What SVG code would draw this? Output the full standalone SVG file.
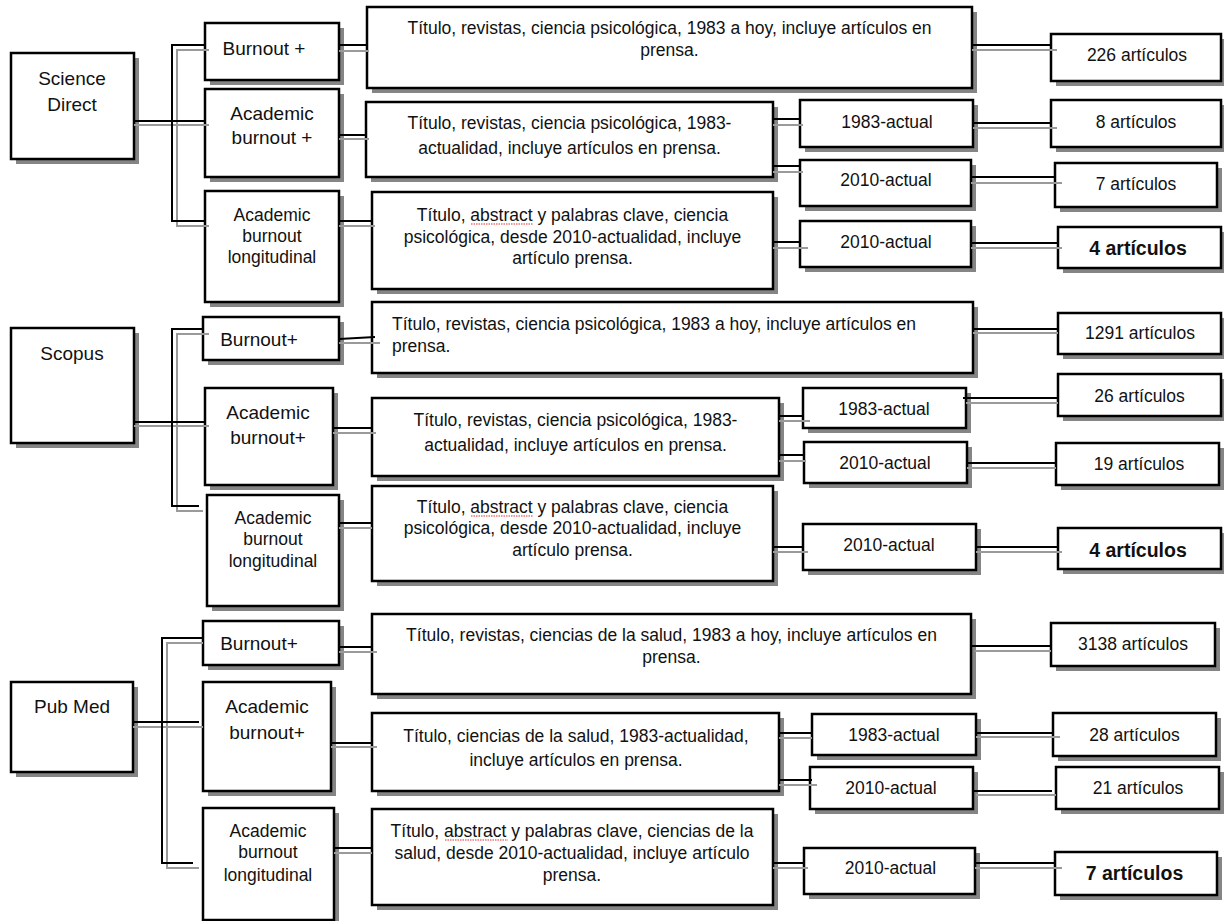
<svg xmlns="http://www.w3.org/2000/svg" width="1224" height="921" viewBox="0 0 1224 921">
<style>
.sh{fill:#858585}
.box{fill:#fff;stroke:#000;stroke-width:2.5}
.c{stroke:#000;stroke-width:2;fill:none}
.g{stroke:#9a9a9a;stroke-width:2;fill:none}
.sq{stroke:#e03030;stroke-width:1.2;fill:none;stroke-dasharray:1.5 1}
text{font-family:"Liberation Sans",Arial,sans-serif;fill:#111;text-anchor:middle}
.s{font-size:17.5px}
.l{font-size:19px}
.bd{font-size:19.5px;font-weight:bold}
.la{text-anchor:start}
</style>
<rect width="1224" height="921" fill="#fff"/>

<!-- Science Direct -->
<g id="sd"><rect class="sh" x="16" y="58" width="123" height="106"/><rect class="box" x="11" y="53" width="123" height="106"/><text class="l" x="72" y="85">Science</text><text class="l" x="72" y="111">Direct</text></g>
<g id="sd_b"><rect class="sh" x="210" y="28" width="134" height="57"/><rect class="box" x="205" y="23" width="134" height="57"/><text class="l" x="264" y="55">Burnout  +</text></g>
<g id="sd_ab"><rect class="sh" x="210" y="94" width="134" height="88"/><rect class="box" x="205" y="89" width="134" height="88"/><text class="l" x="272" y="120">Academic</text><text class="l" x="272" y="144">burnout  +</text></g>
<g id="sd_abl"><rect class="sh" x="210" y="196" width="134" height="111"/><rect class="box" x="205" y="191" width="134" height="111"/><text class="s" x="272" y="221">Academic</text><text class="s" x="272" y="242">burnout</text><text class="s" x="272" y="263">longitudinal</text></g>
<g id="sd_q1"><rect class="sh" x="372" y="12" width="605" height="81"/><rect class="box" x="367" y="7" width="605" height="81"/><text class="s" x="669.5" y="34">Título, revistas, ciencia psicológica, 1983 a hoy, incluye artículos en</text><text class="s" x="669.5" y="56">prensa.</text></g>
<g id="sd_q2"><rect class="sh" x="371" y="107" width="407" height="75"/><rect class="box" x="366" y="102" width="407" height="75"/><text class="s" x="569.5" y="129">Título, revistas, ciencia psicológica, 1983-</text><text class="s" x="569.5" y="154">actualidad, incluye artículos en prensa.</text></g>
<g id="sd_q3"><rect class="sh" x="377" y="197" width="401" height="97"/><rect class="box" x="372" y="192" width="401" height="97"/><text class="s" x="572.5" y="221">Título, abstract y palabras clave, ciencia</text><text class="s" x="572.5" y="243">psicológica, desde 2010-actualidad, incluye</text><text class="s" x="572.5" y="264">artículo prensa.</text><path class="sq" d="M471,224 H533"/></g>
<g id="sd_y1"><rect class="sh" x="805" y="105" width="173" height="47"/><rect class="box" x="800" y="100" width="173" height="47"/><text class="s" x="887" y="128">1983-actual</text></g>
<g id="sd_y2"><rect class="sh" x="805" y="165" width="171" height="46"/><rect class="box" x="800" y="160" width="171" height="46"/><text class="s" x="886" y="186">2010-actual</text></g>
<g id="sd_y3"><rect class="sh" x="805" y="226" width="171" height="46"/><rect class="box" x="800" y="221" width="171" height="46"/><text class="s" x="886" y="248">2010-actual</text></g>
<g id="sd_r1"><rect class="sh" x="1056" y="39" width="170" height="47"/><rect class="box" x="1051" y="34" width="170" height="47"/><text class="s" x="1137" y="61">226 artículos</text></g>
<g id="sd_r2"><rect class="sh" x="1056" y="105" width="170" height="47"/><rect class="box" x="1051" y="100" width="170" height="47"/><text class="s" x="1136" y="128">8 artículos</text></g>
<g id="sd_r3"><rect class="sh" x="1060" y="168" width="162" height="44"/><rect class="box" x="1055" y="163" width="162" height="44"/><text class="s" x="1136" y="190">7 artículos</text></g>
<g id="sd_r4"><rect class="sh" x="1063" y="232" width="163" height="41"/><rect class="box" x="1058" y="227" width="163" height="41"/><text class="bd" x="1138" y="255">4 artículos</text></g>

<!-- Scopus -->
<g id="sc"><rect class="sh" x="16" y="333" width="123" height="115"/><rect class="box" x="11" y="328" width="123" height="115"/><text class="l" x="72" y="360">Scopus</text></g>
<g id="sc_b"><rect class="sh" x="208" y="322" width="136" height="43"/><rect class="box" x="203" y="317" width="136" height="43"/><text class="l" x="259" y="346">Burnout+</text></g>
<g id="sc_ab"><rect class="sh" x="210" y="393" width="128" height="97"/><rect class="box" x="205" y="388" width="128" height="97"/><text class="l" x="268" y="419">Academic</text><text class="l" x="268" y="444">burnout+</text></g>
<g id="sc_abl"><rect class="sh" x="212" y="500" width="132" height="111"/><rect class="box" x="207" y="495" width="132" height="111"/><text class="s" x="273" y="524">Academic</text><text class="s" x="273" y="545">burnout</text><text class="s" x="273" y="567">longitudinal</text></g>
<g id="sc_q1"><rect class="sh" x="377" y="307" width="601" height="71"/><rect class="box" x="372" y="302" width="601" height="71"/><text class="s la" x="392" y="330">Título, revistas, ciencia psicológica, 1983 a hoy, incluye artículos en</text><text class="s la" x="392" y="352">prensa.</text></g>
<g id="sc_q2"><rect class="sh" x="377" y="403" width="407" height="78"/><rect class="box" x="372" y="398" width="407" height="78"/><text class="s" x="575.5" y="426">Título, revistas, ciencia psicológica, 1983-</text><text class="s" x="575.5" y="451">actualidad, incluye artículos en prensa.</text></g>
<g id="sc_q3"><rect class="sh" x="377" y="491" width="401" height="95"/><rect class="box" x="372" y="486" width="401" height="95"/><text class="s" x="572.5" y="513">Título, abstract y palabras clave, ciencia</text><text class="s" x="572.5" y="534">psicológica, desde 2010-actualidad, incluye</text><text class="s" x="572.5" y="556">artículo prensa.</text><path class="sq" d="M471,516 H533"/></g>
<g id="sc_y1"><rect class="sh" x="808" y="393" width="163" height="40"/><rect class="box" x="803" y="388" width="163" height="40"/><text class="s" x="884" y="415">1983-actual</text></g>
<g id="sc_y2"><rect class="sh" x="809" y="447" width="163" height="41"/><rect class="box" x="804" y="442" width="163" height="41"/><text class="s" x="885" y="469">2010-actual</text></g>
<g id="sc_y3"><rect class="sh" x="808" y="529" width="173" height="46"/><rect class="box" x="803" y="524" width="173" height="46"/><text class="s" x="889" y="551">2010-actual</text></g>
<g id="sc_r1"><rect class="sh" x="1063" y="318" width="163" height="41"/><rect class="box" x="1058" y="313" width="163" height="41"/><text class="s" x="1140" y="339">1291 artículos</text></g>
<g id="sc_r2"><rect class="sh" x="1063" y="379" width="163" height="42"/><rect class="box" x="1058" y="374" width="163" height="42"/><text class="s" x="1139.5" y="402">26 artículos</text></g>
<g id="sc_r3"><rect class="sh" x="1061" y="448" width="163" height="42"/><rect class="box" x="1056" y="443" width="163" height="42"/><text class="s" x="1139" y="470">19 artículos</text></g>
<g id="sc_r4"><rect class="sh" x="1063" y="533" width="163" height="41"/><rect class="box" x="1058" y="528" width="163" height="41"/><text class="bd" x="1138" y="557">4 artículos</text></g>

<!-- Pub Med -->
<g id="pm"><rect class="sh" x="16" y="687" width="122" height="90"/><rect class="box" x="11" y="682" width="122" height="90"/><text class="l" x="72" y="713">Pub Med</text></g>
<g id="pm_b"><rect class="sh" x="208" y="626" width="136" height="44"/><rect class="box" x="203" y="621" width="136" height="44"/><text class="l" x="259" y="650">Burnout+</text></g>
<g id="pm_ab"><rect class="sh" x="208" y="687" width="128" height="109"/><rect class="box" x="203" y="682" width="128" height="109"/><text class="l" x="267" y="713">Academic</text><text class="l" x="267" y="739">burnout+</text></g>
<g id="pm_abl"><rect class="sh" x="208" y="813" width="131" height="112"/><rect class="box" x="203" y="808" width="131" height="112"/><text class="s" x="268" y="837">Academic</text><text class="s" x="268" y="858">burnout</text><text class="s" x="268" y="881">longitudinal</text></g>
<g id="pm_q1"><rect class="sh" x="377" y="619" width="599" height="80"/><rect class="box" x="372" y="614" width="599" height="80"/><text class="s" x="671.5" y="641">Título, revistas, ciencias de la salud, 1983 a hoy, incluye artículos en</text><text class="s" x="671.5" y="663">prensa.</text></g>
<g id="pm_q2"><rect class="sh" x="377" y="718" width="407" height="78"/><rect class="box" x="372" y="713" width="407" height="78"/><text class="s" x="576" y="742">Título, ciencias de la salud, 1983-actualidad,</text><text class="s" x="576" y="766">incluye artículos en prensa.</text></g>
<g id="pm_q3"><rect class="sh" x="377" y="814" width="401" height="96"/><rect class="box" x="372" y="809" width="401" height="96"/><text class="s" x="572" y="837">Título, abstract y palabras clave, ciencias de la</text><text class="s" x="572" y="859">salud, desde 2010-actualidad, incluye artículo</text><text class="s" x="572" y="881">prensa.</text><path class="sq" d="M445,840 H508"/></g>
<g id="pm_y1"><rect class="sh" x="817" y="719" width="164" height="41"/><rect class="box" x="812" y="714" width="164" height="41"/><text class="s" x="894" y="741">1983-actual</text></g>
<g id="pm_y2"><rect class="sh" x="815" y="772" width="163" height="42"/><rect class="box" x="810" y="767" width="163" height="42"/><text class="s" x="891" y="794">2010-actual</text></g>
<g id="pm_y3"><rect class="sh" x="809" y="853" width="171" height="46"/><rect class="box" x="804" y="848" width="171" height="46"/><text class="s" x="890.5" y="874">2010-actual</text></g>
<g id="pm_r1"><rect class="sh" x="1056" y="628" width="164" height="43"/><rect class="box" x="1051" y="623" width="164" height="43"/><text class="s" x="1133" y="650">3138 artículos</text></g>
<g id="pm_r2"><rect class="sh" x="1058" y="718" width="163" height="43"/><rect class="box" x="1053" y="713" width="163" height="43"/><text class="s" x="1134.5" y="741">28 artículos</text></g>
<g id="pm_r3"><rect class="sh" x="1061" y="772" width="163" height="42"/><rect class="box" x="1056" y="767" width="163" height="42"/><text class="s" x="1138" y="794">21 artículos</text></g>
<g id="pm_r4"><rect class="sh" x="1060" y="857" width="162" height="43"/><rect class="box" x="1055" y="852" width="162" height="43"/><text class="bd" x="1134.5" y="880">7 artículos</text></g>

<g id="connectors">
<!-- Science Direct -->
<path class="g" d="M134,125 H209 M209,50 H177 V226 H209"/>
<path class="c" d="M134,121 H205 M205,45 H172 V221 H205"/>
<path class="g" d="M339,51 H369 M339,139 H369 M339,226 H375 M773,125 H803 M773,172 H803 M773,248 H808 M972,50 H1057 M973,128 H1057 M971,183 H1062 M971,248 H1062"/>
<path class="c" d="M339,45 H367 M339,135 H366 M339,221 H372 M773,119 H800 M773,166 H800 M773,242 H800 M972,45 H1051 M973,123 H1051 M971,177 H1055 M971,243 H1058"/>
<!-- Scopus -->
<path class="g" d="M134,426 H209 M209,334 H177 V511 H203"/>
<path class="c" d="M134,422 H205 M203,329 H172 V506 H199"/>
<path class="g" d="M339,343 H380 M333,433 H376 M339,528 H372 M779,421 H810 M779,461 H806 M773,552 H808 M973,333 H1058 M966,403 H1058 M967,468 H1056 M976,552 H1062"/>
<path class="c" d="M339,339 L375,337 M333,428 H372 M339,523 H372 M779,416 H803 M779,455 H804 M773,547 H803 M973,329 H1058 M963,398 H1058 M967,463 H1056 M976,547 H1058"/>
<!-- Pub Med -->
<path class="g" d="M133,727 H203 M203,643 H167 V868 H199"/>
<path class="c" d="M133,722 H199 M203,638 H162 V863 H193"/>
<path class="g" d="M339,652 H377 M331,747 H377 M334,853 H372 M779,738 H812 M779,785 H817 M773,868 H808 M975,651 H1051 M976,737 H1060 M976,795 H1056 M975,868 H1062"/>
<path class="c" d="M339,647 H372 M331,743 H372 M334,848 H372 M779,733 H812 M779,780 H812 M773,863 H804 M971,646 H1051 M976,733 H1053 M973,791 H1052 M975,863 H1055"/>
</g>
</svg>
